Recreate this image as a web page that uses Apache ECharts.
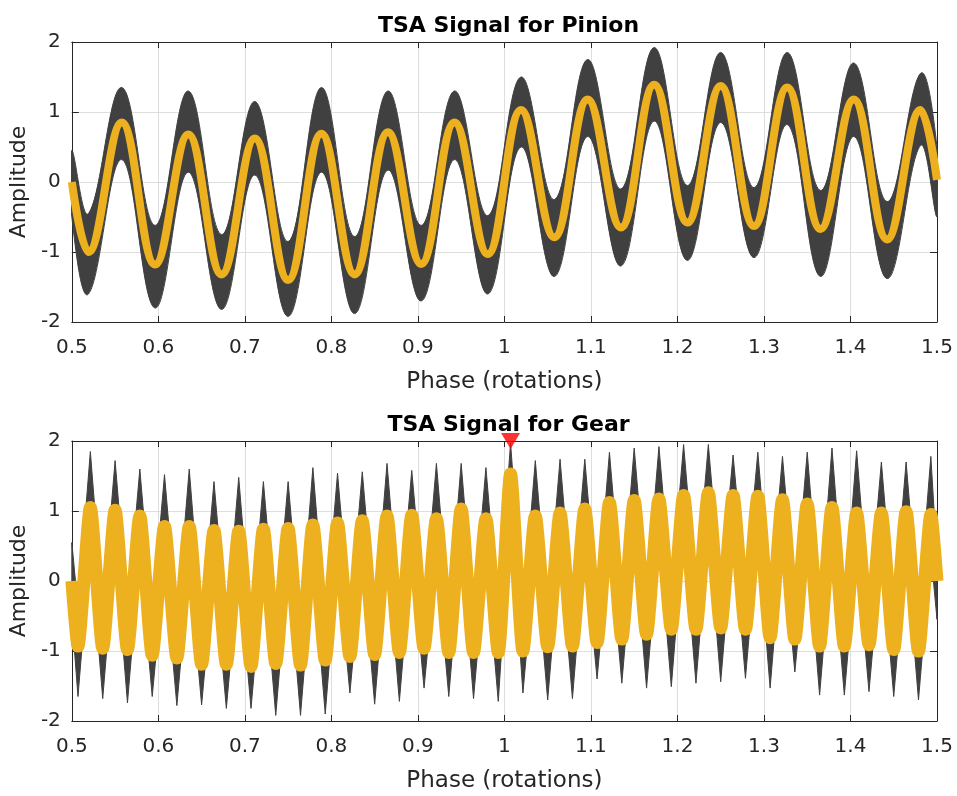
<!DOCTYPE html>
<html>
<head>
<meta charset="utf-8">
<script src="https://cdn.jsdelivr.net/npm/echarts@6/dist/echarts.min.js"></script>
<style>
html,body{margin:0;padding:0;background:#ffffff;}
#chart{width:957px;height:796px;}
</style>
</head>
<body>
<div id="chart"></div>
<script>
// ---- axis ticks ----
const phaseTicks = [0.5, 0.6, 0.7, 0.8, 0.9, 1.0, 1.1, 1.2, 1.3, 1.4, 1.5];
const ampTicks = [-2, -1, 0, 1, 2];

// ---- pinion: phase of key points (extrema), TSA value, raw-signal envelope ----
const pinionPhase = [0.5, 0.5192, 0.5577, 0.5962, 0.6346, 0.6731, 0.7115, 0.75, 0.7885, 0.8269,
  0.8654, 0.9038, 0.9423, 0.9808, 1.0192, 1.0577, 1.0962, 1.1346, 1.1731, 1.2115,
  1.25, 1.2885, 1.3269, 1.3654, 1.4038, 1.4423, 1.4808, 1.5];
const pinionTSA = [0, -1.0, 0.85, -1.18, 0.68, -1.32, 0.62, -1.40, 0.69, -1.32,
  0.71, -1.17, 0.85, -1.03, 1.03, -0.79, 1.18, -0.65, 1.39, -0.58,
  1.37, -0.63, 1.35, -0.67, 1.18, -0.82, 1.03, 0.03];
const pinionRawUpper = [0.45, -0.45, 1.35, -0.62, 1.3, -0.75, 1.15, -0.85, 1.35, -0.78,
  1.3, -0.62, 1.3, -0.48, 1.5, -0.25, 1.75, -0.1, 1.92, -0.05,
  1.85, -0.08, 1.85, -0.12, 1.7, -0.28, 1.55, 0.5];
const pinionRawLower = [-0.5, -1.6, 0.32, -1.8, 0.14, -1.82, 0.1, -1.92, 0.14, -1.88,
  0.17, -1.7, 0.32, -1.6, 0.5, -1.35, 0.65, -1.2, 0.87, -1.12,
  0.85, -1.08, 0.82, -1.35, 0.65, -1.38, 0.52, -0.5];

// ---- gear ----
const gearPhase = [0.5,
  0.5071, 0.5214, 0.5357, 0.5500, 0.5643, 0.5786, 0.5929, 0.6071, 0.6214, 0.6357,
  0.6500, 0.6643, 0.6786, 0.6929, 0.7071, 0.7214, 0.7357, 0.7500, 0.7643, 0.7786,
  0.7929, 0.8071, 0.8214, 0.8357, 0.8500, 0.8643, 0.8786, 0.8929, 0.9071, 0.9214,
  0.9357, 0.9500, 0.9643, 0.9786, 0.9929, 1.0071, 1.0214, 1.0357, 1.0500, 1.0643,
  1.0786, 1.0929, 1.1071, 1.1214, 1.1357, 1.1500, 1.1643, 1.1786, 1.1929, 1.2071,
  1.2214, 1.2357, 1.2500, 1.2643, 1.2786, 1.2929, 1.3071, 1.3214, 1.3357, 1.3500,
  1.3643, 1.3786, 1.3929, 1.4071, 1.4214, 1.4357, 1.4500, 1.4643, 1.4786, 1.4929,
  1.5];
const gearTSA = [0,
  -0.93, 1.05, -0.96, 1.01, -0.98, 0.93, -1.06, 0.78, -1.10, 0.78,
  -1.19, 0.72, -1.19, 0.71, -1.22, 0.74, -1.18, 0.75, -1.20, 0.80,
  -1.13, 0.83, -1.08, 0.86, -1.05, 0.93, -1.02, 0.94, -0.96, 0.89,
  -1.02, 1.03, -1.02, 0.89, -1.02, 1.53, -1.00, 0.93, -0.94, 0.97,
  -0.93, 1.03, -0.88, 1.12, -0.83, 1.15, -0.76, 1.17, -0.69, 1.22,
  -0.69, 1.26, -0.67, 1.22, -0.69, 1.21, -0.81, 1.16, -0.83, 1.10,
  -0.93, 1.05, -0.93, 0.97, -0.91, 0.97, -0.98, 0.99, -1.00, 0.95,
  0];
const gearRawUpper = [0.55,
  -0.38, 1.85, -0.41, 1.72, -0.43, 1.6, -0.51, 1.52, -0.55, 1.6,
  -0.64, 1.42, -0.64, 1.48, -0.67, 1.42, -0.63, 1.42, -0.65, 1.62,
  -0.58, 1.54, -0.53, 1.56, -0.5, 1.68, -0.47, 1.58, -0.41, 1.68,
  -0.47, 1.68, -0.47, 1.62, -0.47, 1.97, -0.45, 1.72, -0.39, 1.74,
  -0.38, 1.74, -0.33, 1.84, -0.28, 1.9, -0.21, 1.92, -0.14, 1.95,
  -0.14, 1.95, -0.12, 1.8, -0.14, 1.84, -0.26, 1.78, -0.28, 1.84,
  -0.38, 1.9, -0.38, 1.86, -0.36, 1.7, -0.43, 1.7, -0.45, 1.78,
  0.3];
const gearRawLower = [-0.5,
  -1.65, 0.5, -1.68, 0.46, -1.74, 0.38, -1.65, 0.23, -1.78, 0.23,
  -1.77, 0.17, -1.82, 0.16, -1.82, 0.19, -1.92, 0.2, -1.92, 0.25,
  -1.9, 0.28, -1.6, 0.31, -1.76, 0.38, -1.72, 0.39, -1.53, 0.34,
  -1.65, 0.48, -1.68, 0.34, -1.72, 0.98, -1.6, 0.38, -1.7, 0.42,
  -1.68, 0.48, -1.4, 0.57, -1.46, 0.6, -1.53, 0.62, -1.51, 0.67,
  -1.46, 0.71, -1.44, 0.67, -1.39, 0.66, -1.53, 0.61, -1.3, 0.55,
  -1.63, 0.5, -1.63, 0.42, -1.58, 0.42, -1.65, 0.44, -1.7, 0.4,
  -0.55];

// ---- marker on gear plot ----
const gearMarkerPhase = [1.0071];
const gearMarkerAmp = [2.0];

const FONT = 'DejaVu Sans';
const AX = '#262626';
const GRIDC = '#dedede';
const RAW = '#404040';
const TSA = '#EDB120';

function bandRenderer(phase, upper, lower, smooth) {
  return function (params, api) {
    if (params.dataIndex !== 0) return null;
    const pts = [];
    for (let i = 0; i < phase.length; i++) pts.push(api.coord([phase[i], upper[i]]));
    for (let i = phase.length - 1; i >= 0; i--) pts.push(api.coord([phase[i], lower[i]]));
    return {
      type: 'polygon',
      shape: { points: pts, smooth: smooth },
      style: { fill: RAW, stroke: RAW, lineWidth: 1 }
    };
  };
}

function xAxes(gridIndex) {
  const common = {
    gridIndex: gridIndex, type: 'value',
    min: phaseTicks[0], max: phaseTicks[phaseTicks.length - 1], interval: 0.1,
    axisLine: { show: true, onZero: false, lineStyle: { color: AX, width: 1 } },
    axisTick: { show: true, inside: true, length: 6, lineStyle: { color: AX } }
  };
  return [
    Object.assign({}, common, {
      position: 'bottom',
      axisLabel: { color: AX, fontSize: 20, fontFamily: FONT, margin: 16 },
      splitLine: { show: true, lineStyle: { color: GRIDC, width: 1 } },
      name: 'Phase (rotations)', nameLocation: 'middle', nameGap: 49,
      nameTextStyle: { color: AX, fontSize: 23, fontFamily: FONT }
    }),
    Object.assign({}, common, {
      position: 'top',
      axisLabel: { show: false },
      splitLine: { show: false }
    })
  ];
}
function yAxes(gridIndex) {
  const common = {
    gridIndex: gridIndex, type: 'value',
    min: ampTicks[0], max: ampTicks[ampTicks.length - 1], interval: 1,
    axisLine: { show: true, onZero: false, lineStyle: { color: AX, width: 1 } },
    axisTick: { show: true, inside: true, length: 7, lineStyle: { color: AX } }
  };
  return [
    Object.assign({}, common, {
      position: 'left',
      axisLabel: { color: AX, fontSize: 20, fontFamily: FONT, margin: 11 },
      splitLine: { show: true, lineStyle: { color: GRIDC, width: 1 } },
      name: 'Amplitude', nameLocation: 'middle', nameGap: 30,
      nameTextStyle: { color: AX, fontSize: 22, fontFamily: FONT }
    }),
    Object.assign({}, common, {
      position: 'right',
      axisLabel: { show: false },
      splitLine: { show: false }
    })
  ];
}

const chart = echarts.init(document.getElementById('chart'), null, { renderer: 'canvas' });
chart.setOption({
  animation: false,
  backgroundColor: '#ffffff',
  title: [
    { text: 'TSA Signal for Pinion', left: 503.5, top: 10, textAlign: 'center',
      textStyle: { fontFamily: FONT, fontSize: 22, fontWeight: 'bold', color: '#000' } },
    { text: 'TSA Signal for Gear', left: 503.5, top: 409, textAlign: 'center',
      textStyle: { fontFamily: FONT, fontSize: 22, fontWeight: 'bold', color: '#000' } }
  ],
  grid: [
    { left: 70, top: 42, width: 867, height: 280, containLabel: false },
    { left: 70, top: 441, width: 867, height: 280, containLabel: false }
  ],
  xAxis: xAxes(0).concat(xAxes(1)),
  yAxis: yAxes(0).concat(yAxes(1)),
  series: [
    {
      type: 'custom', name: 'Pinion raw', xAxisIndex: 0, yAxisIndex: 0, clip: true, z: 2,
      data: pinionPhase.map((x, i) => [x, pinionRawUpper[i], pinionRawLower[i]]),
      encode: { x: 0, y: [1, 2] },
      renderItem: bandRenderer(pinionPhase, pinionRawUpper, pinionRawLower, 0.4)
    },
    {
      type: 'line', name: 'Pinion TSA', xAxisIndex: 0, yAxisIndex: 0, z: 3,
      data: pinionPhase.map((x, i) => [x, pinionTSA[i]]),
      smooth: 0.4, showSymbol: false, symbol: 'none',
      lineStyle: { color: TSA, width: 8 }
    },
    {
      type: 'custom', name: 'Gear raw', xAxisIndex: 2, yAxisIndex: 2, clip: true, z: 2,
      data: gearPhase.map((x, i) => [x, gearRawUpper[i], gearRawLower[i]]),
      encode: { x: 0, y: [1, 2] },
      renderItem: bandRenderer(gearPhase, gearRawUpper, gearRawLower, 0)
    },
    {
      type: 'line', name: 'Gear TSA', xAxisIndex: 2, yAxisIndex: 2, z: 3,
      data: gearPhase.map((x, i) => [x, gearTSA[i]]),
      smooth: 0.2, showSymbol: false, symbol: 'none',
      lineStyle: { color: TSA, width: 13 }
    },
    {
      type: 'scatter', name: 'Marker', xAxisIndex: 2, yAxisIndex: 2, z: 5, clip: false,
      data: gearMarkerPhase.map((x, i) => [x, gearMarkerAmp[i]]),
      symbol: 'triangle', symbolRotate: 180, symbolSize: [19, 16],
      itemStyle: { color: '#FF0000' }
    }
  ]
});
</script>
</body>
</html>
